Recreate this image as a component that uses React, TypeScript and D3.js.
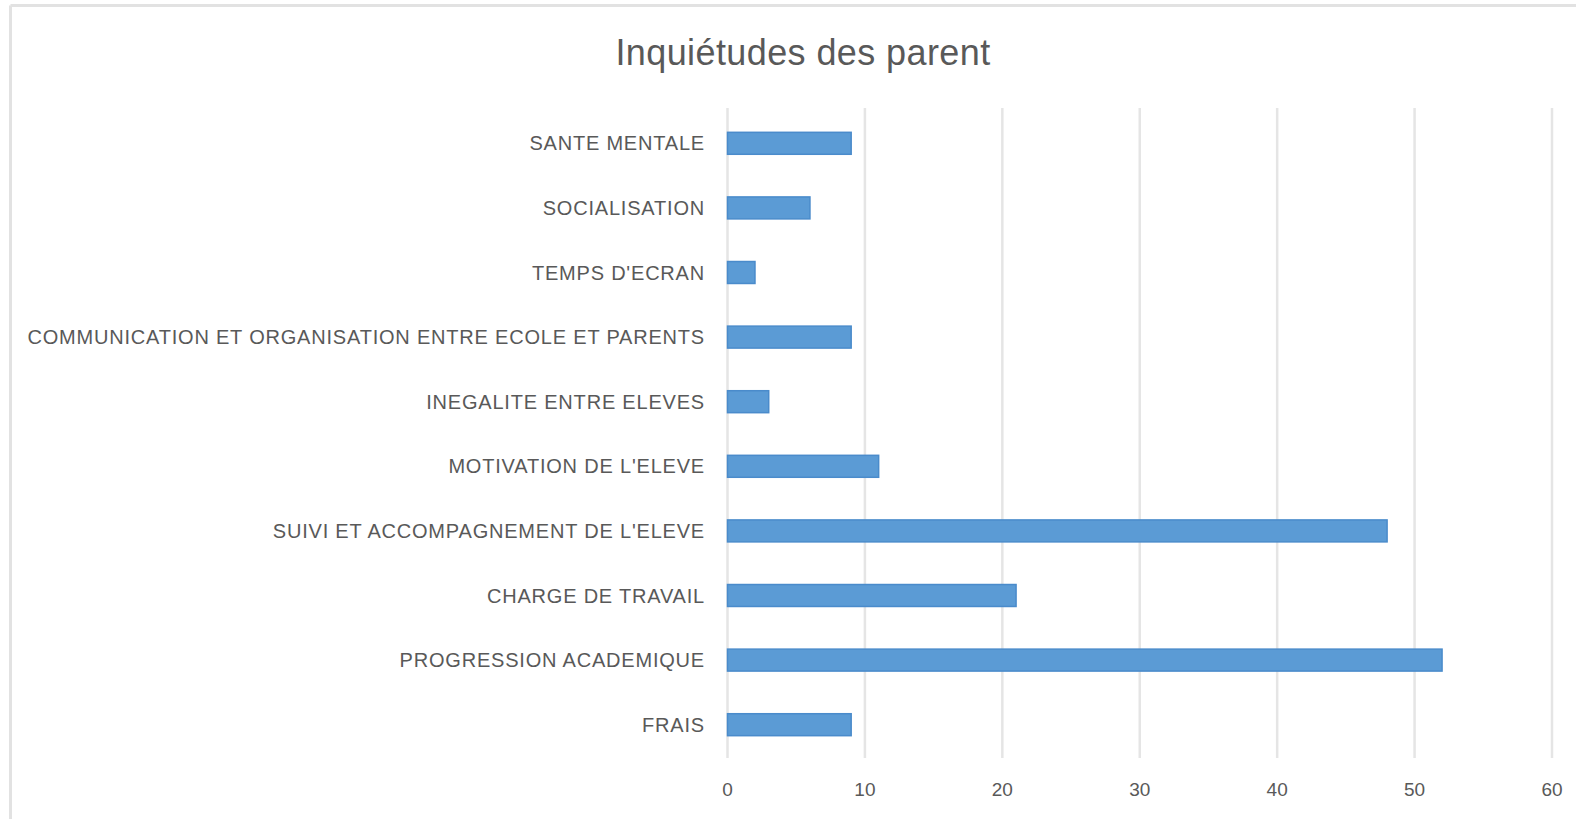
import React from "react";
import * as d3 from "d3";

const title = "Inquiétudes des parent";
const categories = [
  "SANTE MENTALE",
  "SOCIALISATION",
  "TEMPS D'ECRAN",
  "COMMUNICATION ET ORGANISATION ENTRE ECOLE ET PARENTS",
  "INEGALITE ENTRE ELEVES",
  "MOTIVATION DE L'ELEVE",
  "SUIVI ET ACCOMPAGNEMENT DE L'ELEVE",
  "CHARGE DE TRAVAIL",
  "PROGRESSION ACADEMIQUE",
  "FRAIS",
];
const values = [9, 6, 2, 9, 3, 11, 48, 21, 52, 9];
const xTicks = [0, 10, 20, 30, 40, 50, 60];

export default function App() {
  const W = 1576;
  const H = 819;
  const x = d3.scaleLinear().domain([0, 60]).range([727.5, 1552]);
  const y = d3
    .scaleBand<string>()
    .domain(categories)
    .range([111, 757])
    .paddingInner(0.66)
    .paddingOuter(0.33);
  const barH = y.bandwidth();
  const gray = "#595959";
  const font = "'Liberation Sans', Arial, sans-serif";

  return (
    <svg
      width={W}
      height={H}
      style={{ position: "absolute", left: 0, top: 0, background: "#fff" }}
    >
      <rect x={0} y={0} width={W} height={H} fill="#fff" />
      {/* outer chart border */}
      <line x1={10.5} y1={5.5} x2={W} y2={5.5} stroke="#e2e2e2" strokeWidth={3} />
      <line x1={10.5} y1={5.5} x2={10.5} y2={H} stroke="#e2e2e2" strokeWidth={3} />

      <text
        x={803}
        y={65}
        textAnchor="middle"
        fontFamily={font}
        fontSize={36}
        letterSpacing={0.4}
        fill={gray}
      >
        {title}
      </text>

      {xTicks.map((t) => (
        <g key={t}>
          <line
            x1={x(t)}
            x2={x(t)}
            y1={108}
            y2={758}
            stroke="#e5e5e5"
            strokeWidth={2.5}
          />
          <text
            x={x(t)}
            y={796}
            textAnchor="middle"
            fontFamily={font}
            fontSize={19}
            fill={gray}
          >
            {t}
          </text>
        </g>
      ))}

      {categories.map((c, i) => (
        <g key={c}>
          <rect
            x={x(0)}
            y={y(c)!}
            width={x(values[i]) - x(0)}
            height={barH}
            fill="#5b9bd5"
            stroke="#4a8bcb"
            strokeWidth={1.5}
          />
          <text
            x={705}
            y={y(c)! + barH / 2}
            dy="0.35em"
            textAnchor="end"
            fontFamily={font}
            fontSize={20}
            letterSpacing={0.8}
            fill={gray}
          >
            {c}
          </text>
        </g>
      ))}
    </svg>
  );
}
